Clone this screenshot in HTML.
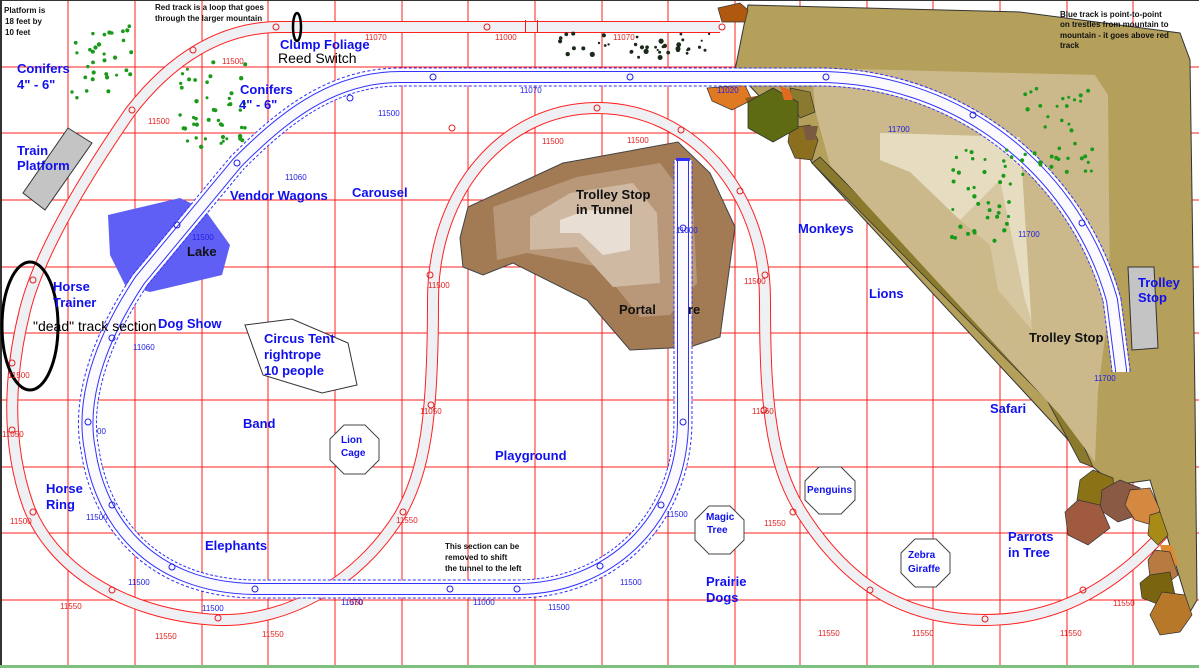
<!DOCTYPE html>
<html><head><meta charset="utf-8"><style>
html,body{margin:0;padding:0;background:#fff;}
svg{display:block;}
.b{font-family:"Liberation Sans",sans-serif;font-weight:bold;fill:#1010ee;font-size:13px;}
.s{font-family:"Liberation Sans",sans-serif;font-weight:bold;fill:#1010ee;font-size:10px;}
.k{font-family:"Liberation Sans",sans-serif;font-weight:bold;fill:#111;font-size:13px;}
.t{font-family:"Liberation Sans",sans-serif;fill:#111;font-size:8px;}
.n{font-family:"Liberation Sans",sans-serif;fill:#e02020;font-size:8px;}
.nb{font-family:"Liberation Sans",sans-serif;fill:#2020e0;font-size:8px;}
</style></head><body>
<svg width="1199" height="668" viewBox="0 0 1199 668" xmlns="http://www.w3.org/2000/svg">
<rect width="1199" height="668" fill="#fff"/>
<g stroke="#ff2020" stroke-width="1">
<line x1="68" y1="0" x2="68" y2="668"/><line x1="135" y1="0" x2="135" y2="668"/><line x1="202" y1="0" x2="202" y2="668"/><line x1="268" y1="0" x2="268" y2="668"/><line x1="335" y1="0" x2="335" y2="668"/><line x1="402" y1="0" x2="402" y2="668"/><line x1="468" y1="0" x2="468" y2="668"/><line x1="535" y1="0" x2="535" y2="668"/><line x1="602" y1="0" x2="602" y2="668"/><line x1="668" y1="0" x2="668" y2="668"/><line x1="735" y1="0" x2="735" y2="668"/><line x1="800" y1="0" x2="800" y2="668"/><line x1="867" y1="0" x2="867" y2="668"/><line x1="933" y1="0" x2="933" y2="668"/><line x1="1000" y1="0" x2="1000" y2="668"/><line x1="1067" y1="0" x2="1067" y2="668"/><line x1="1133" y1="0" x2="1133" y2="668"/>
<line x1="0" y1="67" x2="1199" y2="67"/><line x1="0" y1="133" x2="1199" y2="133"/><line x1="0" y1="200" x2="1199" y2="200"/><line x1="0" y1="267" x2="1199" y2="267"/><line x1="0" y1="333" x2="1199" y2="333"/><line x1="0" y1="400" x2="1199" y2="400"/><line x1="0" y1="467" x2="1199" y2="467"/><line x1="0" y1="533" x2="1199" y2="533"/><line x1="0" y1="600" x2="1199" y2="600"/>
</g>
<rect x="0" y="0" width="2" height="668" fill="#333"/><rect x="0" y="0" width="1199" height="1" fill="#333"/>
<rect x="0" y="665" width="1199" height="3" fill="#7fbf7f"/>

<!-- red track -->
<path id="rt" d="M720,27 L280,27 C220,27 170,60 130,112 C90,170 40,250 25,310 C10,370 5,440 28,505 C50,565 120,615 218,620 C290,622 360,580 400,515 C425,470 433,420 433,300 C433,190 505,108 597,108 C690,108 765,190 765,300 C765,400 770,460 800,510 C850,590 910,620 985,620 C1060,620 1120,585 1175,520" fill="none" stroke="#ff2020" stroke-width="12"/>
<path d="M720,27 L280,27 C220,27 170,60 130,112 C90,170 40,250 25,310 C10,370 5,440 28,505 C50,565 120,615 218,620 C290,622 360,580 400,515 C425,470 433,420 433,300 C433,190 505,108 597,108 C690,108 765,190 765,300 C765,400 770,460 800,510 C850,590 910,620 985,620 C1060,620 1120,585 1175,520" fill="none" stroke="#eef0f4" stroke-width="10"/>
<g fill="none" stroke="#e02020" stroke-width="1">
<circle cx="276" cy="27" r="3"/><circle cx="487" cy="27" r="3"/><circle cx="722" cy="27" r="3"/><circle cx="193" cy="50" r="3"/><circle cx="132" cy="110" r="3"/><circle cx="33" cy="280" r="3"/><circle cx="12" cy="363" r="3"/><circle cx="12" cy="430" r="3"/><circle cx="33" cy="512" r="3"/><circle cx="112" cy="590" r="3"/><circle cx="218" cy="618" r="3"/><circle cx="403" cy="512" r="3"/><circle cx="431" cy="405" r="3"/><circle cx="430" cy="275" r="3"/><circle cx="452" cy="128" r="3"/><circle cx="597" cy="108" r="3"/><circle cx="681" cy="130" r="3"/><circle cx="740" cy="191" r="3"/><circle cx="765" cy="275" r="3"/><circle cx="764" cy="410" r="3"/><circle cx="793" cy="512" r="3"/><circle cx="870" cy="590" r="3"/><circle cx="985" cy="619" r="3"/><circle cx="1083" cy="590" r="3"/>
</g>
<rect x="525" y="20" width="1" height="13" fill="#e02020"/><rect x="537" y="20" width="1" height="13" fill="#e02020"/>

<!-- central mountain -->
<polygon points="460,238 468,207 563,163 580,160 678,142 710,173 735,227 720,337 690,347 630,350 587,300 513,263 483,275 463,267" fill="#a27b55" stroke="#444" stroke-width="1"/>
<polygon points="493,207 577,177 660,163 693,207 697,283 670,315 640,317 600,267 527,253 497,260" fill="#b89878"/>
<polygon points="530,217 570,193 633,183 657,213 660,283 613,287 577,247 530,250" fill="#cfb9a3"/>
<polygon points="560,220 587,210 630,213 630,250 603,255 580,233 560,233" fill="#e9ded3"/>

<!-- right mountain -->
<polygon points="748,5 1020,12 1180,33 1190,60 1195,400 1197,600 1190,612 1150,480 1115,485 1093,467 1050,420 812,163 800,140 735,70" fill="#b4a05b" stroke="#333" stroke-width="1"/>
<polygon points="812,163 820,157 1063,400 1093,467 1080,462 1047,400" fill="#8a7a2e" stroke="#333" stroke-width="0.8"/>
<polygon points="812,68 1095,75 1108,95 1110,300 1098,390 1095,462 1060,415 830,165 815,110" fill="#cbb98b"/>
<polygon points="880,133 1020,137 1032,330 998,290 990,245 960,220 910,172 880,160" fill="#e6ddc1"/>
<polygon points="1000,180 1025,300 1060,410 1040,390 980,300 960,220" fill="#cbb98b" opacity="0.6"/>

<!-- rocks top -->
<polygon points="718,8 740,3 748,10 745,22 722,22" fill="#b0580f" stroke="#333" stroke-width="0.7"/>
<polygon points="707,88 745,85 752,100 732,110 712,101" fill="#e07a22" stroke="#333" stroke-width="0.7"/>
<polygon points="745,98 762,95 765,107 750,108" fill="#8a5a20"/>
<polygon points="790,88 810,92 815,112 800,118 792,104" fill="#8a7a30" stroke="#333" stroke-width="0.7"/>
<polygon points="790,128 810,125 818,140 812,160 795,158 788,142" fill="#8b6f1e" stroke="#333" stroke-width="0.7"/>
<polygon points="803,126 818,126 815,140 806,140" fill="#7a5a40"/>
<polygon points="773,88 798,102 798,128 773,142 748,128 748,102" fill="#5e6b12" stroke="#333" stroke-width="0.8"/>
<polygon points="780,86 790,90 793,100 784,100" fill="#e06a20"/>

<!-- rocks bottom right -->
<polygon points="1093,470 1113,478 1115,505 1097,510 1077,500 1080,480" fill="#8b7216" stroke="#333" stroke-width="0.7"/>
<polygon points="1120,480 1140,488 1138,515 1118,522 1100,510 1102,490" fill="#8a5a45" stroke="#333" stroke-width="0.7"/>
<polygon points="1078,500 1100,505 1110,528 1088,545 1068,535 1065,512" fill="#a05a40" stroke="#333" stroke-width="0.7"/>
<polygon points="1130,490 1150,488 1160,510 1152,525 1135,520 1125,505" fill="#d48840" stroke="#333" stroke-width="0.7"/>
<polygon points="1150,515 1160,512 1168,535 1158,545 1148,535" fill="#a88a16" stroke="#333" stroke-width="0.7"/>
<polygon points="1160,545 1172,545 1178,565 1165,568" fill="#e08a30"/>
<polygon points="1155,550 1170,552 1178,575 1165,585 1150,578 1148,560" fill="#b87a40" stroke="#333" stroke-width="0.7"/>
<polygon points="1150,575 1170,572 1175,595 1160,605 1142,598 1140,583" fill="#7a6410" stroke="#333" stroke-width="0.7"/>
<polygon points="1162,592 1185,595 1192,615 1180,632 1160,635 1150,615" fill="#b8782a" stroke="#333" stroke-width="0.7"/>

<!-- Lake, platforms -->
<polygon points="108,215 180,198 205,210 230,245 222,275 180,285 150,292 125,285 110,255" fill="#5f5ff5"/>
<polygon points="68,128 92,143 45,210 23,193" fill="#c4c4c4" stroke="#333" stroke-width="1"/>
<polygon points="1128,267 1154,267 1158,348 1132,350" fill="#c4c4c4" stroke="#333" stroke-width="1"/>
<polygon points="245,325 292,319 348,343 357,385 322,393 263,375" fill="#fff" stroke="#333" stroke-width="1"/>

<!-- blue track -->
<g fill="none">
<path d="M1121,372 L1121,370 L1112,300 A305,305 0 0 0 820,77 L400,77 C330,77 280,120 237,163 L140,280 C100,340 80,400 90,450 C100,520 150,588 255,589 L517,589 C610,589 683,520 683,420 L683,160" stroke="#3030ff" stroke-width="19" stroke-dasharray="3,2"/>
<path d="M1121,372 L1121,370 L1112,300 A305,305 0 0 0 820,77 L400,77 C330,77 280,120 237,163 L140,280 C100,340 80,400 90,450 C100,520 150,588 255,589 L517,589 C610,589 683,520 683,420 L683,160" stroke="#fff" stroke-width="17"/>
<path d="M1121,372 L1121,370 L1112,300 A305,305 0 0 0 820,77 L400,77 C330,77 280,120 237,163 L140,280 C100,340 80,400 90,450 C100,520 150,588 255,589 L517,589 C610,589 683,520 683,420 L683,160" stroke="#3030ff" stroke-width="12"/>
<path d="M1121,372 L1121,370 L1112,300 A305,305 0 0 0 820,77 L400,77 C330,77 280,120 237,163 L140,280 C100,340 80,400 90,450 C100,520 150,588 255,589 L517,589 C610,589 683,520 683,420 L683,160" stroke="#fafaff" stroke-width="10"/>
</g>
<rect x="676" y="158" width="14" height="3" fill="#3030ff"/>
<g fill="none" stroke="#2020e0" stroke-width="1">
<circle cx="433" cy="77" r="3"/><circle cx="630" cy="77" r="3"/><circle cx="826" cy="77" r="3"/><circle cx="350" cy="98" r="3"/><circle cx="237" cy="163" r="3"/><circle cx="177" cy="225" r="3"/><circle cx="112" cy="338" r="3"/><circle cx="88" cy="422" r="3"/><circle cx="112" cy="505" r="3"/><circle cx="172" cy="567" r="3"/><circle cx="255" cy="589" r="3"/><circle cx="450" cy="589" r="3"/><circle cx="517" cy="589" r="3"/><circle cx="600" cy="566" r="3"/><circle cx="661" cy="505" r="3"/><circle cx="683" cy="422" r="3"/><circle cx="683" cy="228" r="3"/><circle cx="973" cy="115" r="3"/><circle cx="1082" cy="223" r="3"/>
</g>

<!-- octagons -->
<g fill="#fff" stroke="#444" stroke-width="1">
<polygon points="344,425 365,425 379,439 379,460 365,474 344,474 330,460 330,439"/>
<polygon points="709,506 730,506 744,520 744,540 730,554 709,554 695,540 695,520"/>
<polygon points="819,467 841,467 855,481 855,500 841,514 819,514 805,500 805,481"/>
<polygon points="915,539 936,539 950,553 950,573 936,587 915,587 901,573 901,553"/>
</g>

<!-- ellipses -->
<ellipse cx="30" cy="326" rx="28" ry="64" fill="none" stroke="#000" stroke-width="3"/>
<ellipse cx="297" cy="27" rx="4" ry="14" fill="none" stroke="#000" stroke-width="2.5"/>

<g id="dots"></g>

<!-- labels -->
<text class="t" x="4" y="13" font-weight="bold">Platform is</text>
<text class="t" x="5" y="24" font-weight="bold">18 feet by</text>
<text class="t" x="5" y="35" font-weight="bold">10 feet</text>
<text class="t" x="155" y="10" font-weight="bold">Red track is a loop that goes</text>
<text class="t" x="155" y="21" font-weight="bold">through the larger mountain</text>
<text class="t" x="1060" y="17" font-weight="bold">Blue track is point-to-point</text>
<text class="t" x="1060" y="27" font-weight="bold">on trestles from mountain to</text>
<text class="t" x="1060" y="38" font-weight="bold">mountain - it goes above red</text>
<text class="t" x="1060" y="48" font-weight="bold">track</text>
<text class="b" x="17" y="73">Conifers</text><text class="b" x="17" y="89">4" - 6"</text>
<text class="b" x="240" y="94">Conifers</text><text class="b" x="239" y="109">4" - 6"</text>
<text class="b" x="280" y="49">Clump Foliage</text>
<text x="278" y="63" font-family="Liberation Sans, sans-serif" font-size="14" fill="#000">Reed Switch</text>
<text class="b" x="17" y="155">Train</text><text class="b" x="17" y="170">Platform</text>
<text class="b" x="230" y="200">Vendor Wagons</text>
<text class="b" x="352" y="197">Carousel</text>
<text class="k" x="187" y="256">Lake</text>
<text class="b" x="53" y="291">Horse</text><text class="b" x="53" y="307">Trainer</text>
<text class="b" x="158" y="328">Dog Show</text>
<text x="33" y="331" font-family="Liberation Sans, sans-serif" font-size="14" fill="#000">"dead" track section</text>
<text class="b" x="264" y="343">Circus Tent</text><text class="b" x="264" y="359">rightrope</text><text class="b" x="264" y="375">10 people</text>
<text class="b" x="243" y="428">Band</text>
<text class="s" x="341" y="443">Lion</text><text class="s" x="341" y="456">Cage</text>
<text class="b" x="495" y="460">Playground</text>
<text class="b" x="46" y="493">Horse</text><text class="b" x="46" y="509">Ring</text>
<text class="b" x="205" y="550">Elephants</text>
<text class="t" x="445" y="549" font-weight="bold">This section can be</text>
<text class="t" x="445" y="560" font-weight="bold">removed to shift</text>
<text class="t" x="445" y="571" font-weight="bold">the tunnel to the left</text>
<text class="s" x="706" y="520">Magic</text><text class="s" x="707" y="533">Tree</text>
<text class="b" x="706" y="586">Prairie</text><text class="b" x="706" y="602">Dogs</text>
<text class="s" x="807" y="493">Penguins</text>
<text class="s" x="908" y="558">Zebra</text><text class="s" x="908" y="572">Giraffe</text>
<text class="b" x="1008" y="541">Parrots</text><text class="b" x="1008" y="557">in Tree</text>
<text class="b" x="990" y="413">Safari</text>
<text class="b" x="869" y="298">Lions</text>
<text class="b" x="798" y="233">Monkeys</text>
<text class="k" x="1029" y="342">Trolley Stop</text>
<text class="b" x="1138" y="287">Trolley</text><text class="b" x="1138" y="302">Stop</text>
<text class="k" x="576" y="199">Trolley Stop</text><text class="k" x="576" y="214">in Tunnel</text>
<text class="k" x="619" y="314">Portal</text><text class="k" x="688" y="314">re</text>

<!-- numbers -->
<text class="n" x="365" y="40">11070</text><text class="n" x="495" y="40">11000</text><text class="n" x="613" y="40">11070</text>
<text class="n" x="222" y="64">11500</text><text class="n" x="148" y="124">11500</text>
<text class="n" x="542" y="144">11500</text><text class="n" x="627" y="143">11500</text>
<text class="n" x="428" y="288">11500</text><text class="n" x="744" y="284">11500</text>
<text class="n" x="8" y="378">11500</text><text class="n" x="2" y="437">11050</text>
<text class="n" x="420" y="414">11050</text><text class="n" x="752" y="414">11060</text>
<text class="n" x="10" y="524">11500</text><text class="n" x="396" y="523">11550</text><text class="n" x="764" y="526">11550</text>
<text class="n" x="60" y="609">11550</text><text class="n" x="350" y="605">550</text>
<text class="n" x="155" y="639">11550</text><text class="n" x="262" y="637">11550</text>
<text class="n" x="818" y="636">11550</text><text class="n" x="912" y="636">11550</text><text class="n" x="1113" y="606">11550</text><text class="n" x="1060" y="636">11550</text>
<text class="nb" x="520" y="93">11070</text><text class="nb" x="378" y="116">11500</text>
<text class="nb" x="285" y="180">11060</text><text class="nb" x="192" y="240">11500</text>
<text class="nb" x="133" y="350">11060</text><text class="nb" x="97" y="434">00</text>
<text class="nb" x="86" y="520">11500</text><text class="nb" x="128" y="585">11500</text>
<text class="nb" x="202" y="611">11500</text><text class="nb" x="341" y="605">11070</text>
<text class="nb" x="473" y="605">11000</text><text class="nb" x="548" y="610">11500</text>
<text class="nb" x="620" y="585">11500</text><text class="nb" x="666" y="517">11500</text>
<text class="nb" x="676" y="233">11000</text>
<text class="nb" x="717" y="93">11020</text>
<text class="nb" x="888" y="132">11700</text><text class="nb" x="1018" y="237">11700</text><text class="nb" x="1094" y="381">11700</text>
</svg>
<script>
(function(){
var s=7,g=document.getElementById('dots'),ns='http://www.w3.org/2000/svg';
function r(){s=(s*16807)%2147483647;return s/2147483647;}
function cl(x0,x1,y0,y1,n,col,rmin,rmax){for(var i=0;i<n;i++){var c=document.createElementNS(ns,'circle');c.setAttribute('cx',(x0+r()*(x1-x0)).toFixed(1));c.setAttribute('cy',(y0+r()*(y1-y0)).toFixed(1));c.setAttribute('r',(rmin+r()*(rmax-rmin)).toFixed(1));c.setAttribute('fill',col);g.appendChild(c);}}
cl(72,135,22,98,32,'#1a9a1a',1.5,2.2);
cl(180,248,62,148,45,'#1a9a1a',1.5,2.2);
cl(945,1012,150,245,38,'#1a9a1a',1.5,2.2);
cl(1022,1095,86,175,38,'#1a9a1a',1.5,2.2);
cl(540,710,33,58,40,'#1c2a1c',1,2.8);
})();
</script>
</body></html>
